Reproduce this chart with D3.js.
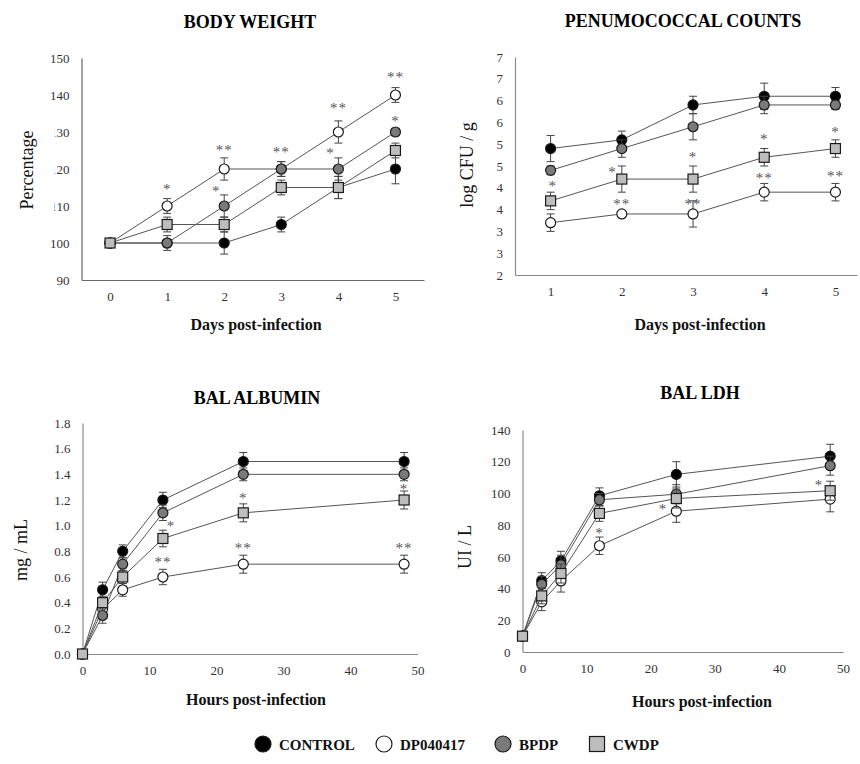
<!DOCTYPE html>
<html>
<head>
<meta charset="utf-8">
<script src="https://cdn.jsdelivr.net/npm/d3@7"></script>
<style>
  html, body { margin: 0; padding: 0; background: #fff; }
  svg { display: block; font-family: "Liberation Serif", "Times New Roman", serif; }
</style>
</head>
<body>
<svg id="chart" width="860" height="764"></svg>
<script>
// ---- Series names (legend order = draw order) ----
const seriesNames = ["CONTROL", "DP040417", "BPDP", "CWDP"];

// ---- Body weight (% of day 0) ----
const bwDays = [0, 1, 2, 3, 4, 5];
const bwControl = [100, 100, 100, 105, 115, 120];
const bwControlErr = [0, 1, 3, 2, 3, 4];
const bwDP = [100, 110, 120, 120, 130, 140];
const bwDPErr = [0, 2, 3, 2, 3, 2];
const bwBPDP = [100, 100, 110, 120, 120, 130];
const bwBPDPErr = [0, 2, 3, 2, 3, 1];
const bwCWDP = [100, 105, 105, 115, 115, 125];
const bwCWDPErr = [0, 2, 2, 2, 3, 2];
const bwTicks = [90, 100, 110, 120, 130, 140, 150];
const bwXTicks = [0, 1, 2, 3, 4, 5];
// significance marks: [x, y, text]
const bwStars = [
  [1, 115.2, "*"], [1.86, 114.6, "*"], [2, 125.7, "**"], [3, 125.2, "**"],
  [4, 136.9, "**"], [3.86, 124.9, "*"], [5, 145.5, "**"], [5, 133.6, "*"]
];

// ---- Pneumococcal counts (log CFU / g) ----
const pcDays = [1, 2, 3, 4, 5];
const pcControl = [4.9, 5.1, 5.9, 6.1, 6.1];
const pcControlErr = [0.3, 0.2, 0.2, 0.3, 0.2];
const pcDP = [3.2, 3.4, 3.4, 3.9, 3.9];
const pcDPErr = [0.2, 0.05, 0.3, 0.2, 0.2];
const pcBPDP = [4.4, 4.9, 5.4, 5.9, 5.9];
const pcBPDPErr = [0.1, 0.2, 0.3, 0.2, 0.1];
const pcCWDP = [3.7, 4.2, 4.2, 4.7, 4.9];
const pcCWDPErr = [0.2, 0.3, 0.3, 0.2, 0.2];
const pcTicks = [2, 2.5, 3, 3.5, 4, 4.5, 5, 5.5, 6, 6.5, 7];
const pcTickLabels = ["2", "3", "3", "4", "4", "5", "5", "6", "6", "7", "7"];
const pcXTicks = [1, 2, 3, 4, 5];
const pcStars = [
  [1.03, 4.09, "*"], [1.87, 4.41, "*"], [2, 3.67, "**"], [3, 4.75, "*"],
  [3, 3.67, "**"], [4, 5.17, "*"], [4, 4.27, "**"], [5, 5.33, "*"], [5, 4.32, "**"]
];

// ---- BAL albumin (mg / mL) ----
const balHours = [0, 3, 6, 12, 24, 48];
const albControl = [0, 0.5, 0.8, 1.2, 1.5, 1.5];
const albControlErr = [0, 0.06, 0.05, 0.06, 0.07, 0.07];
const albDP = [0, 0.35, 0.5, 0.6, 0.7, 0.7];
const albDPErr = [0, 0.05, 0.05, 0.06, 0.07, 0.07];
const albBPDP = [0, 0.3, 0.7, 1.1, 1.4, 1.4];
const albBPDPErr = [0, 0.06, 0.05, 0.06, 0.05, 0.05];
const albCWDP = [0, 0.4, 0.6, 0.9, 1.1, 1.2];
const albCWDPErr = [0, 0.05, 0.05, 0.065, 0.07, 0.07];
const albTicks = [0, 0.2, 0.4, 0.6, 0.8, 1.0, 1.2, 1.4, 1.6, 1.8];
const hourTicks = [0, 10, 20, 30, 40, 50];
const albStars = [
  [13.2, 1.01, "*"], [12, 0.73, "**"], [24, 1.23, "*"], [24, 0.84, "**"],
  [48, 1.30, "*"], [48, 0.84, "**"]
];

// ---- BAL LDH (UI / L) ----
const ldhControl = [10, 45, 57.5, 98.5, 112, 123.5];
const ldhControlErr = [2, 5, 6, 5, 8, 7.5];
const ldhDP = [10, 31.6, 44.8, 67, 88.8, 96.4];
const ldhDPErr = [2, 5.5, 7, 5.5, 7, 8];
const ldhBPDP = [10, 42.7, 55, 96, 99.5, 117.5];
const ldhBPDPErr = [2, 5, 6, 4, 6, 6];
const ldhCWDP = [10, 35.4, 49.5, 87.4, 96.8, 101.7];
const ldhCWDPErr = [2, 5, 6, 5, 6, 6];
const ldhTicks = [0, 20, 40, 60, 80, 100, 120, 140];
const ldhStars = [[12, 76.3, "*"], [21.9, 91.5, "*"], [46.25, 106.6, "*"]];

// ---- Marker styles per series ----
const markerStyle = {
  "CONTROL":  { shape: "circle", fill: "#000000" },
  "DP040417": { shape: "circle", fill: "#ffffff" },
  "BPDP":     { shape: "circle", fill: "#7a7a7a" },
  "CWDP":     { shape: "square", fill: "#bdbdbd" }
};

const svg = d3.select("#chart");

function drawMarker(g, shape, fill, cx, cy, size) {
  if (shape === "circle") {
    g.append("circle").attr("cx", cx).attr("cy", cy).attr("r", size)
      .attr("fill", fill).attr("stroke", "#1a1a1a").attr("stroke-width", 1.2);
  } else {
    g.append("rect").attr("x", cx - size).attr("y", cy - size)
      .attr("width", size * 2).attr("height", size * 2)
      .attr("fill", fill).attr("stroke", "#1a1a1a").attr("stroke-width", 1.2);
  }
}

function drawPanel(cfg) {
  const g = svg.append("g");
  const x = d3.scaleLinear().domain(cfg.xDomain).range(cfg.xRange);
  const y = d3.scaleLinear().domain(cfg.yDomain).range(cfg.yRange);
  const axisColor = cfg.axisColor || "#8a8a8a";

  // Y axis
  const yAxis = d3.axisLeft(y).tickValues(cfg.yTicks).tickSize(0).tickPadding(12)
    .tickFormat(cfg.yFormat);
  const ya = g.append("g").attr("transform", `translate(${cfg.xRange[0]},0)`).call(yAxis);
  ya.select(".domain").attr("stroke", axisColor).attr("stroke-width", 1.2);
  ya.selectAll("text").attr("font-family", "Liberation Serif, serif")
    .attr("font-size", 13).attr("fill", "#333");

  // X axis
  const xAxis = d3.axisBottom(x).tickValues(cfg.xTicks).tickSize(0).tickPadding(12)
    .tickFormat(d3.format("d"));
  const xa = g.append("g").attr("transform", `translate(0,${cfg.yRange[0]})`).call(xAxis);
  xa.select(".domain").attr("stroke", axisColor).attr("stroke-width", 1.2);
  xa.selectAll("text").attr("font-family", "Liberation Serif, serif")
    .attr("font-size", 13).attr("fill", "#333");

  // Series: lines, error bars, markers
  const line = d3.line().x(d => x(d[0])).y(d => y(d[1]));
  cfg.series.forEach((s, si) => {
    const sg = g.append("g");
    const pts = cfg.xs.map((xv, i) => [xv, s.values[i]]);
    sg.append("path").attr("d", line(pts)).attr("fill", "none")
      .attr("stroke", "#555").attr("stroke-width", 1);
    pts.forEach((p, i) => {
      const e = s.err[i];
      if (!e) return;
      const cx = x(p[0]);
      const y0 = y(p[1] - e), y1 = y(p[1] + e);
      sg.append("line").attr("x1", cx).attr("x2", cx).attr("y1", y0).attr("y2", y1)
        .attr("stroke", "#444").attr("stroke-width", 1);
      [y0, y1].forEach(yy => sg.append("line").attr("x1", cx - 4).attr("x2", cx + 4)
        .attr("y1", yy).attr("y2", yy).attr("stroke", "#444").attr("stroke-width", 1));
    });
    const st = markerStyle[s.name];
    pts.forEach(p => drawMarker(sg, st.shape, st.fill, x(p[0]), y(p[1]), 5));
  });

  // Significance marks
  cfg.stars.forEach(s => {
    g.append("text").attr("x", x(s[0])).attr("y", y(s[1]) + 7)
      .attr("text-anchor", "middle").attr("font-size", 15)
      .attr("font-family", "Liberation Serif, serif")
      .attr("fill", "#555").attr("letter-spacing", 1).text(s[2]);
  });

  // Y-axis title (with optional white backing)
  if (cfg.yTitleBox) {
    const b = cfg.yTitleBox;
    g.append("rect").attr("x", b[0]).attr("y", b[1]).attr("width", b[2]).attr("height", b[3])
      .attr("fill", "#fff");
  }
  g.append("text")
    .attr("transform", `translate(${cfg.yTitlePos[0]},${cfg.yTitlePos[1]}) rotate(-90)`)
    .attr("text-anchor", "middle").attr("dominant-baseline", "central")
    .attr("font-size", 18).attr("fill", "#111").text(cfg.yTitle);

  // X-axis title
  g.append("text").attr("x", cfg.xTitlePos[0]).attr("y", cfg.xTitlePos[1])
    .attr("text-anchor", "middle").attr("font-size", 16).attr("font-weight", "bold")
    .attr("fill", "#111").text(cfg.xTitle);

  // Panel title
  g.append("text").attr("x", cfg.titlePos[0]).attr("y", cfg.titlePos[1])
    .attr("text-anchor", "middle").attr("font-size", 18).attr("font-weight", "bold")
    .attr("fill", "#000").text(cfg.title);
}

function seriesSet(vals, errs) {
  return seriesNames.map((n, i) => ({ name: n, values: vals[i], err: errs[i] }));
}

drawPanel({
  title: "BODY WEIGHT", titlePos: [250, 28],
  xs: bwDays, xDomain: [-0.5, 5.5], xRange: [81.5, 424], xTicks: bwXTicks,
  yDomain: [90, 150], yRange: [280, 58], yTicks: bwTicks, yFormat: d3.format("d"),
  axisColor: "#666",
  series: seriesSet([bwControl, bwDP, bwBPDP, bwCWDP],
                    [bwControlErr, bwDPErr, bwBPDPErr, bwCWDPErr]),
  stars: bwStars,
  yTitle: "Percentage", yTitlePos: [27, 170], yTitleBox: [0, 118, 54.5, 104],
  xTitle: "Days post-infection", xTitlePos: [256, 330]
});

drawPanel({
  title: "PENUMOCOCCAL COUNTS", titlePos: [683, 27],
  xs: pcDays, xDomain: [0.5, 5.3], xRange: [515, 856.8], xTicks: pcXTicks,
  yDomain: [2, 7], yRange: [275, 57], yTicks: pcTicks,
  yFormat: (d, i) => pcTickLabels[pcTicks.indexOf(d)],
  series: seriesSet([pcControl, pcDP, pcBPDP, pcCWDP],
                    [pcControlErr, pcDPErr, pcBPDPErr, pcCWDPErr]),
  stars: pcStars,
  yTitle: "log CFU / g", yTitlePos: [467, 165],
  xTitle: "Days post-infection", xTitlePos: [700, 330]
});

drawPanel({
  title: "BAL ALBUMIN", titlePos: [257, 404],
  xs: balHours, xDomain: [0, 50], xRange: [82.5, 417.5], xTicks: hourTicks,
  yDomain: [0, 1.8], yRange: [654, 423], yTicks: albTicks, yFormat: d3.format(".1f"),
  series: seriesSet([albControl, albDP, albBPDP, albCWDP],
                    [albControlErr, albDPErr, albBPDPErr, albCWDPErr]),
  stars: albStars,
  yTitle: "mg / mL", yTitlePos: [21, 550],
  xTitle: "Hours post-infection", xTitlePos: [256, 705]
});

drawPanel({
  title: "BAL LDH", titlePos: [700, 399],
  xs: balHours, xDomain: [0, 50], xRange: [522.5, 843], xTicks: hourTicks,
  yDomain: [0, 140], yRange: [652, 430], yTicks: ldhTicks, yFormat: d3.format("d"),
  series: seriesSet([ldhControl, ldhDP, ldhBPDP, ldhCWDP],
                    [ldhControlErr, ldhDPErr, ldhBPDPErr, ldhCWDPErr]),
  stars: ldhStars,
  yTitle: "UI / L", yTitlePos: [465, 547],
  xTitle: "Hours post-infection", xTitlePos: [702, 707]
});

// ---- Legend ----
const legendX = [263, 384, 503, 597];
const lg = svg.append("g");
seriesNames.forEach((n, i) => {
  const st = markerStyle[n];
  drawMarker(lg, st.shape, st.fill, legendX[i], 744, st.shape === "circle" ? 8 : 7.5);
  lg.append("text").attr("x", legendX[i] + 16).attr("y", 749.5)
    .attr("font-size", 15).attr("font-weight", "bold").attr("fill", "#111").text(n);
});
</script>
</body>
</html>
